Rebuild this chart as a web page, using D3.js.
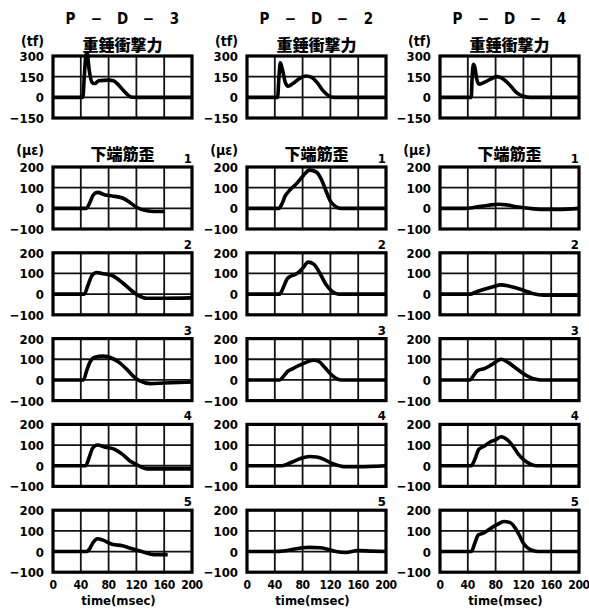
<!DOCTYPE html>
<html>
<head>
<meta charset="utf-8">
<script src="https://cdn.jsdelivr.net/npm/d3@7"></script>
<style>
  body { margin: 0; background: #fff; }
  text { font-family: "DejaVu Sans Condensed", "DejaVu Sans", sans-serif; font-weight: bold; fill: #000; }
  .cjk { font-family: "Noto Sans CJK JP", sans-serif; font-weight: 900; }
</style>
</head>
<body>
<div id="picture"></div>
<script>
// specimen names (one per column)
var specimens = [["P", "−", "D", "−", "3"], ["P", "−", "D", "−", "2"], ["P", "−", "D", "−", "4"]];
var timeTicks = [0, 40, 80, 120, 160, 200];
var forceTicks = [300, 150, 0, -150];
var strainTicks = [200, 100, 0, -100];
var rowNames = ["1", "2", "3", "4", "5"];

// impact force (tf) vs time (msec)
var forceD3 = [[0,0],[43,0],[45,150],[47,290],[49,325],[52,200],[56,110],[60,100],[66,120],[80,125],[87,120],[95,85],[105,30],[112,3],[120,0],[200,0]];
var forceD2 = [[0,0],[44,0],[46,150],[48,250],[51,200],[55,110],[59,80],[66,100],[75,135],[85,155],[93,145],[102,100],[110,45],[118,10],[125,0],[200,0]];
var forceD4 = [[0,0],[45,0],[46,120],[48,240],[50,220],[53,130],[56,95],[62,105],[72,130],[82,150],[92,130],[102,80],[111,30],[120,8],[130,0],[200,0]];

// lower rebar strain (micro strain), P-D-3
var strainD3_1 = [[0,0],[48,0],[52,20],[58,65],[64,77],[75,65],[85,60],[100,50],[110,30],[120,5],[135,-12],[145,-15],[160,-15]];
var strainD3_2 = [[0,0],[45,0],[50,40],[56,90],[63,105],[70,100],[85,90],[100,55],[112,20],[122,-5],[135,-20],[150,-20],[200,-18]];
var strainD3_3 = [[0,0],[44,0],[48,40],[53,85],[60,110],[72,115],[85,105],[95,85],[105,55],[115,20],[125,-5],[140,-18],[160,-15],[200,-10]];
var strainD3_4 = [[0,0],[47,0],[52,40],[57,85],[64,100],[75,90],[88,80],[100,55],[112,20],[123,0],[135,-15],[150,-15],[200,-15]];
var strainD3_5 = [[0,0],[48,0],[52,10],[58,45],[64,62],[72,55],[85,35],[100,28],[115,12],[130,-2],[145,-15],[165,-15]];

// P-D-2
var strainD2_1 = [[0,0],[46,0],[50,20],[55,60],[62,90],[70,115],[79,150],[90,185],[100,175],[107,140],[113,90],[120,35],[128,8],[135,0],[200,0]];
var strainD2_2 = [[0,0],[47,0],[52,30],[58,75],[65,90],[72,100],[80,125],[88,155],[96,145],[105,100],[113,50],[122,15],[132,0],[200,0]];
var strainD2_3 = [[0,0],[47,0],[52,15],[58,40],[66,55],[75,70],[85,85],[96,95],[104,88],[112,60],[120,30],[128,8],[135,0],[200,0]];
var strainD2_4 = [[0,0],[50,0],[58,8],[65,18],[77,35],[90,45],[100,42],[110,32],[120,15],[130,3],[140,-5],[160,-5],[200,0]];
var strainD2_5 = [[0,0],[40,0],[55,4],[65,10],[80,18],[90,20],[105,18],[115,12],[128,0],[142,-5],[160,5],[180,2],[200,0]];

// P-D-4
var strainD4_1 = [[0,0],[37,0],[50,5],[70,15],[85,20],[97,16],[110,8],[128,0],[145,-5],[170,-5],[200,0]];
var strainD4_2 = [[0,0],[44,0],[50,8],[60,20],[75,35],[88,45],[100,38],[117,22],[133,3],[150,-5],[200,-5]];
var strainD4_3 = [[0,0],[43,0],[48,20],[54,45],[64,55],[75,75],[88,100],[98,85],[108,60],[118,35],[128,15],[138,3],[145,0],[200,0]];
var strainD4_4 = [[0,0],[45,0],[50,30],[56,80],[64,95],[72,115],[80,125],[88,140],[97,125],[105,95],[113,55],[122,25],[130,8],[138,0],[200,0]];
var strainD4_5 = [[0,0],[45,0],[50,40],[55,80],[63,90],[72,110],[82,130],[92,145],[101,140],[108,115],[114,80],[120,40],[127,15],[136,3],[145,0],[200,0]];

var forces = [forceD3, forceD2, forceD4];
var strains = [
    [strainD3_1, strainD3_2, strainD3_3, strainD3_4, strainD3_5],
    [strainD2_1, strainD2_2, strainD2_3, strainD2_4, strainD2_5],
    [strainD4_1, strainD4_2, strainD4_3, strainD4_4, strainD4_5]
];

function draw() {
    "use strict";

    var width = 589, height = 610;
    var colLeft = [53, 247, 440], boxW = 139, boxH = 62;
    var forceTop = 56, strainTop = 167, rowStep = 85.8;

    var svg = d3.select("#picture")
        .append("svg")
        .attr("width", width)
        .attr("height", height);

    function panel(left, top, yTicks, data, lastRow) {
        var x_scale = d3.scaleLinear().domain([0, 200]).range([left, left + boxW]);
        var y_scale = d3.scaleLinear().domain([yTicks[3], yTicks[0]]).range([top + boxH, top]);
        var g = svg.append("g");

        // grid
        g.selectAll(".vg").data(timeTicks.slice(1, 5)).enter().append("line")
            .attr("x1", function (d) { return x_scale(d); })
            .attr("x2", function (d) { return x_scale(d); })
            .attr("y1", top).attr("y2", top + boxH)
            .attr("stroke", "#111").attr("stroke-width", 1.8);
        g.selectAll(".hg").data(yTicks.slice(1, 3)).enter().append("line")
            .attr("y1", function (d) { return y_scale(d); })
            .attr("y2", function (d) { return y_scale(d); })
            .attr("x1", left).attr("x2", left + boxW)
            .attr("stroke", "#111").attr("stroke-width", 1.8);
        g.append("rect")
            .attr("x", left).attr("y", top)
            .attr("width", boxW).attr("height", boxH)
            .attr("fill", "none").attr("stroke", "#000").attr("stroke-width", 3.2);

        // y tick labels
        g.selectAll(".yt").data(yTicks).enter().append("text")
            .attr("x", left - 9)
            .attr("y", function (d) { return y_scale(d) + 5; })
            .attr("text-anchor", "end")
            .attr("font-size", 13)
            .text(function (d) { return d < 0 ? "−" + (-d) : d; });

        if (lastRow) {
            g.selectAll(".xt").data(timeTicks).enter().append("text")
                .attr("x", function (d) { return x_scale(d); })
                .attr("y", top + boxH + 17)
                .attr("text-anchor", "middle")
                .attr("font-size", 12)
                .attr("letter-spacing", -0.3)
                .text(function (d) { return d; });
            g.append("text")
                .attr("x", left + boxW / 2 - 4)
                .attr("y", top + boxH + 33)
                .attr("text-anchor", "middle")
                .attr("font-size", 13)
                .text("time(msec)");
        }

        var line = d3.line()
            .x(function (d) { return x_scale(d[0]); })
            .y(function (d) { return y_scale(d[1]); })
            .curve(d3.curveMonotoneX);

        g.append("path")
            .attr("d", line(data))
            .attr("fill", "none")
            .attr("stroke", "#000")
            .attr("stroke-width", 3.6)
            .attr("stroke-linejoin", "round");
    }

    for (var c = 0; c < 3; c++) {
        var left = colLeft[c];
        var mid = left + boxW / 2;

        svg.selectAll(".sp" + c).data(specimens[c]).enter().append("text")
            .attr("x", function (d, i) { return mid + (i - 2) * 26; })
            .attr("y", 24)
            .attr("text-anchor", "middle")
            .attr("font-size", 15)
            .text(function (d) { return d; });

        svg.append("text").attr("x", left - 9).attr("y", 46)
            .attr("text-anchor", "end").attr("font-size", 14).text("(tf)");
        svg.append("text").attr("class", "cjk")
            .attr("x", mid).attr("y", 51)
            .attr("text-anchor", "middle").attr("font-size", 16)
            .text("重錘衝撃力");

        panel(left, forceTop, forceTicks, forces[c], false);

        svg.append("text").attr("x", left - 9).attr("y", 155)
            .attr("text-anchor", "end").attr("font-size", 14).text("(με)");
        svg.append("text").attr("class", "cjk")
            .attr("x", mid).attr("y", 160)
            .attr("text-anchor", "middle").attr("font-size", 16)
            .text("下端筋歪");

        for (var r = 0; r < 5; r++) {
            var top = strainTop + r * rowStep;
            svg.append("text")
                .attr("x", left + boxW)
                .attr("y", top - 4)
                .attr("text-anchor", "end")
                .attr("font-size", 13)
                .text(rowNames[r]);
            panel(left, top, strainTicks, strains[c][r], r === 4);
        }
    }
}

draw();
</script>
</body>
</html>
